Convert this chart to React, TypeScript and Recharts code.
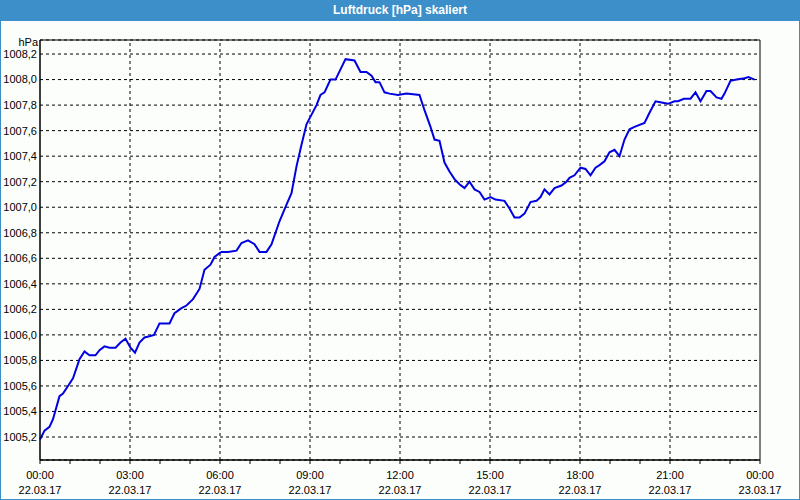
import React from 'react';
import { LineChart, Line, XAxis, YAxis, CartesianGrid, ReferenceLine, ReferenceArea } from 'recharts';

// minutes since 22.03.17 00:00
const times = [
  0, 9, 19, 26, 39, 46, 56, 66, 79, 89, 99, 111, 119, 129, 139, 151, 161, 171, 181, 190,
  199, 209, 219, 228, 239, 259, 269, 283, 293, 306, 319, 329, 341, 349, 359,
  363, 376, 393, 403, 416, 429, 439, 453, 463, 479, 493, 503, 513, 523, 533, 541, 553, 561,
  569, 581, 591, 601, 611, 629, 641, 653, 663, 671, 679, 689, 699, 716,
  733, 759, 769, 781, 789, 799, 809, 819, 829, 839, 849, 859, 869, 879, 889, 901, 911, 929,
  939, 949, 959, 969, 981, 993, 1001, 1009, 1019, 1029, 1043, 1053, 1059, 1069, 1081,
  1091, 1101, 1111, 1119, 1129, 1139, 1149, 1159, 1169, 1179, 1189, 1209, 1219, 1231, 1243,
  1256, 1269, 1276, 1288, 1301, 1311, 1321, 1333, 1341, 1353, 1363, 1369, 1381, 1393, 1409,
  1417, 1423, 1429,
];

// Luftdruck in hPa
const pressure = [
  1005.18, 1005.25, 1005.28, 1005.34, 1005.52, 1005.54, 1005.6, 1005.66, 1005.81, 1005.87,
  1005.84, 1005.84, 1005.88, 1005.91, 1005.9, 1005.9, 1005.94, 1005.97, 1005.9, 1005.86,
  1005.94, 1005.98, 1005.99, 1006.0, 1006.09, 1006.09, 1006.17, 1006.21, 1006.23, 1006.28,
  1006.36, 1006.51, 1006.55, 1006.61, 1006.64,
  1006.65, 1006.65, 1006.66, 1006.72, 1006.74, 1006.71, 1006.65, 1006.65, 1006.71, 1006.89,
  1007.02, 1007.11, 1007.32, 1007.49, 1007.65, 1007.71, 1007.8, 1007.88,
  1007.9, 1008.0, 1008.0, 1008.08, 1008.16, 1008.15, 1008.06, 1008.06, 1008.03, 1007.98,
  1007.98, 1007.9, 1007.89, 1007.88,
  1007.89, 1007.88, 1007.76, 1007.63, 1007.53, 1007.52, 1007.35, 1007.28, 1007.22, 1007.18,
  1007.15, 1007.2, 1007.14, 1007.12, 1007.06, 1007.08, 1007.06, 1007.05,
  1006.99, 1006.92, 1006.92, 1006.95, 1007.04, 1007.05, 1007.08, 1007.14, 1007.1, 1007.15,
  1007.17, 1007.2, 1007.23, 1007.25, 1007.31,
  1007.3, 1007.25, 1007.31, 1007.33, 1007.36, 1007.43, 1007.45, 1007.4, 1007.53, 1007.61,
  1007.63, 1007.66, 1007.74, 1007.83, 1007.82,
  1007.81, 1007.83, 1007.83, 1007.85, 1007.85, 1007.9, 1007.83, 1007.91, 1007.91, 1007.86,
  1007.85, 1007.89, 1007.99, 1008.0, 1008.01,
  1008.02, 1008.01, 1008.0,
];

const yTicks = [
  1005.2, 1005.4, 1005.6, 1005.8, 1006.0, 1006.2, 1006.4, 1006.6, 1006.8,
  1007.0, 1007.2, 1007.4, 1007.6, 1007.8, 1008.0, 1008.2,
];
const yMin = 1005.02;
const yMax = 1008.31;

const hourTicks = [
  0, 60, 120, 180, 240, 300, 360, 420, 480, 540, 600, 660, 720, 780, 840, 900, 960,
  1020, 1080, 1140, 1200, 1260, 1320, 1380, 1440,
];
const majorTicks = [0, 180, 360, 540, 720, 900, 1080, 1260, 1440];
const timeLabels = ['00:00', '03:00', '06:00', '09:00', '12:00', '15:00', '18:00', '21:00', '00:00'];
const dateLabels = ['22.03.17', '22.03.17', '22.03.17', '22.03.17', '22.03.17', '22.03.17', '22.03.17', '22.03.17', '23.03.17'];

const data = times.map((t, i) => ({ t, p: pressure[i] }));

const FONT = '"Liberation Sans", Arial, sans-serif';

const XTick = (props: any) => {
  const { x, y, payload } = props;
  const idx = majorTicks.indexOf(payload.value);
  if (idx < 0) return <g />;
  return (
    <g>
      <text x={x} y={y} textAnchor="middle" fontSize={11} fill="#000" fontFamily={FONT}>
        <tspan x={x} dy={13}>{timeLabels[idx]}</tspan>
        <tspan x={x} dy={15}>{dateLabels[idx]}</tspan>
      </text>
    </g>
  );
};

export default function App() {
  return (
    <div
      style={{
        position: 'absolute',
        left: 0,
        top: 0,
        width: 800,
        height: 500,
        background: '#fcfefc',
        boxShadow: 'inset 0 0 0 1px #3c8dc6',
        fontFamily: FONT,
        overflow: 'hidden',
      }}
    >
      <div
        style={{
          position: 'absolute',
          left: 0,
          top: 0,
          width: 800,
          height: 21,
          background: '#3c8fc8',
          color: '#fff',
          fontWeight: 'bold',
          fontSize: 12,
          lineHeight: '21px',
          textAlign: 'center',
        }}
      >
        Luftdruck [hPa] skaliert
      </div>
      <div
        style={{
          position: 'absolute',
          left: 0,
          top: 36,
          width: 38,
          height: 13,
          fontSize: 11,
          lineHeight: '13px',
          textAlign: 'right',
          color: '#000',
        }}
      >
        hPa
      </div>
      <div style={{ position: 'absolute', left: 0, top: 0 }}>
        <LineChart
          width={800}
          height={500}
          data={data}
          margin={{ top: 40, right: 40, bottom: 0, left: 0 }}
          style={{ fontFamily: FONT }}
        >
          <CartesianGrid vertical={false} stroke="#000" strokeDasharray="3 3" />
          {majorTicks.slice(1, -1).map((m) => (
            <ReferenceLine key={m} x={m} stroke="#000" strokeDasharray="3 3" />
          ))}
          <XAxis
            dataKey="t"
            type="number"
            domain={[0, 1440]}
            ticks={hourTicks}
            interval={0}
            height={40}
            tickSize={4}
            tickMargin={2}
            axisLine={{ stroke: '#000' }}
            tickLine={{ stroke: '#000' }}
            tick={<XTick />}
          />
          <YAxis
            type="number"
            domain={[yMin, yMax]}
            ticks={yTicks}
            interval={0}
            width={40}
            tickSize={0}
            tickMargin={3}
            axisLine={{ stroke: '#000' }}
            tickLine={false}
            tick={{ fontSize: 11, fill: '#000', fontFamily: FONT }}
            tickFormatter={(v: number) => v.toFixed(1).replace('.', ',')}
            allowDataOverflow
          />
          <ReferenceArea x1={0} x2={1440} y1={yMin} y2={yMax} fill="none" stroke="#000" />
          <Line
            type="linear"
            dataKey="p"
            stroke="#0000e0"
            strokeWidth={2}
            dot={false}
            isAnimationActive={false}
          />
        </LineChart>
      </div>
    </div>
  );
}
